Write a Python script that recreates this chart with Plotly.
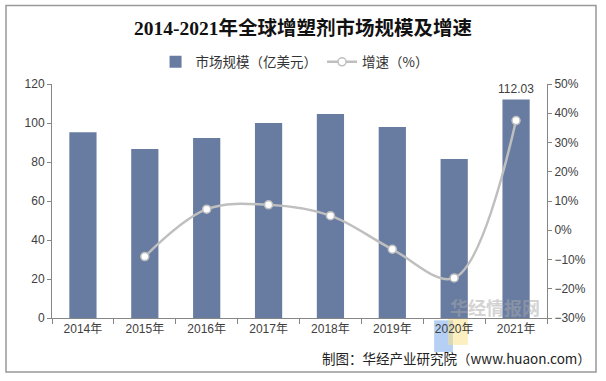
import plotly.graph_objects as go

years = ["2014年", "2015年", "2016年", "2017年", "2018年", "2019年", "2020年", "2021年"]
market = [95.3, 86.7, 92.3, 100.0, 104.6, 97.9, 81.5, 112.03]
growth_years = ["2015年", "2016年", "2017年", "2018年", "2019年", "2020年", "2021年"]
growth = [-9.0, 7.2, 8.7, 5.0, -6.5, -16.3, 37.5]

bar_color = "#687CA2"
line_color = "#BFBFBF"
tick_font = dict(family="Liberation Sans, Arial, sans-serif", size=12, color="#404040")

fig = go.Figure()
fig.add_trace(go.Bar(
    x=years, y=market, name="市场规模（亿美元）",
    marker=dict(color=bar_color, line=dict(width=0)),
    yaxis="y",
))
fig.add_trace(go.Scatter(
    x=growth_years, y=growth, name="增速（%）",
    mode="lines+markers",
    line=dict(color=line_color, width=2.5, shape="spline", smoothing=1.0),
    marker=dict(size=8, color="white", line=dict(color=line_color, width=1.5)),
    yaxis="y2",
))

fig.add_annotation(x=years[-1], y=market[-1], text="112.03", showarrow=False,
                   yanchor="bottom", yshift=2, font=tick_font)
fig.add_annotation(xref="paper", yref="paper", x=1.093, y=-0.171, xanchor="right", yanchor="middle",
                   text="制图：华经产业研究院（www.huaon.com）", showarrow=False,
                   font=dict(family="Noto Sans CJK SC, sans-serif", size=13.5, color="#222222"))
# watermark
fig.add_annotation(xref="paper", yref="paper", x=0.99, y=0.045, xanchor="right", yanchor="middle",
                   text="<b>华经情报网</b>", showarrow=False, opacity=0.5,
                   font=dict(family="Noto Sans CJK SC, sans-serif", size=18, color="#A8A8A8"))

fig.update_layout(
    width=606, height=381,
    margin=dict(l=52, r=59, t=84, b=63),
    paper_bgcolor="white", plot_bgcolor="white",
    title=dict(text="<b>2014-2021年全球增塑剂市场规模及增速</b>", x=0.5, xanchor="center",
               y=0.927, yanchor="middle",
               font=dict(family="Liberation Serif, Noto Sans CJK SC, serif", size=19.5, color="#111111")),
    bargap=0.56,
    showlegend=True,
    legend=dict(orientation="h", x=0.49, xanchor="center", y=1.094, yanchor="middle",
                font=dict(family="Noto Sans CJK SC, sans-serif", size=13.5, color="#333333"),
                itemwidth=30, traceorder="normal"),
    xaxis=dict(type="category", showline=True, linecolor="#868686", linewidth=1,
               ticks="outside", tickson="boundaries", ticklen=5, tickcolor="#868686",
               tickfont=dict(family="Liberation Sans, Noto Sans CJK SC, sans-serif", size=12, color="#404040"),
               showgrid=False, fixedrange=True),
    yaxis=dict(range=[0, 120], dtick=20, showline=True, linecolor="#868686", linewidth=1,
               ticks="outside", ticklen=4, tickcolor="#868686", tickfont=tick_font,
               showgrid=False, zeroline=False),
    yaxis2=dict(range=[-30, 50], dtick=10, overlaying="y", side="right", showline=True,
                linecolor="#868686", linewidth=1, ticks="outside", ticklen=4, tickcolor="#868686",
                ticksuffix="%", tickfont=tick_font, showgrid=False, zeroline=False),
    shapes=[
        dict(type="rect", xref="paper", yref="paper", x0=-0.0929, x1=1.099, y0=-0.231, y1=1.335,
             line=dict(color="#999999", width=1.5), fillcolor="rgba(0,0,0,0)", layer="below"),
        dict(type="rect", xref="paper", yref="paper", x0=0.772, x1=0.81, y0=-0.145, y1=-0.01,
             line=dict(width=0), fillcolor="rgba(120,170,235,0.55)", layer="below"),
        dict(type="rect", xref="paper", yref="paper", x0=0.80, x1=0.84, y0=-0.115, y1=0.0,
             line=dict(width=0), fillcolor="rgba(250,225,130,0.5)", layer="below"),
    ],
)

fig.write_html("out.html", config={"displayModeBar": False},
               post_script="document.body.style.margin='0';")
